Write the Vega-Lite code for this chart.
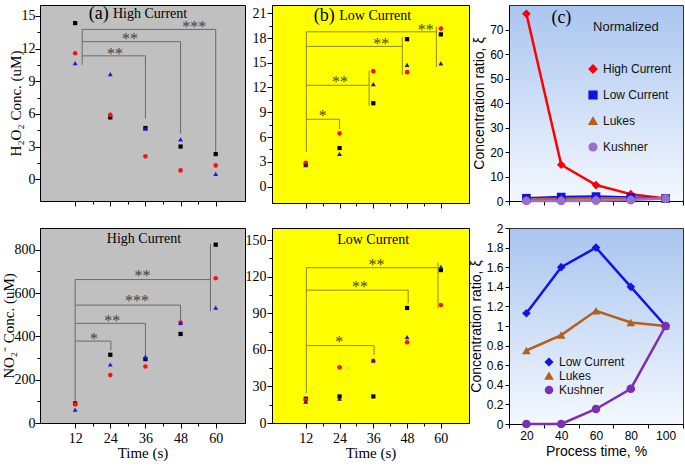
{
"$schema": "https://vega.github.io/schema/vega-lite/v6.json",
"padding": {"left": 0, "top": 4, "right": 2, "bottom": 2},
"columns": 3,
"align": "each",
"spacing": {"column": -2, "row": 12},
"resolve": {"scale": {"color": "independent", "shape": "independent", "size": "independent"}, "legend": {"color": "independent", "shape": "independent", "size": "independent"}},
"config": {
  "font": "Liberation Serif",
  "axis": {"labelFont": "Liberation Serif", "titleFont": "Liberation Serif", "labelFontSize": 14, "titleFontSize": 15, "titleFontWeight": "normal", "labelColor": "#000", "titleColor": "#000", "domainColor": "#000", "tickColor": "#000", "grid": false, "labelFlush": false, "labelOverlap": false, "labelPadding": 1, "titlePadding": 0, "tickCount": 40},
  "view": {"stroke": "#000"}
},
"datasets": {
  "aTopPts": [
    {"t":12,"s":"K","v":14.34},{"t":12,"s":"R","v":11.57},{"t":12,"s":"B","v":10.67},
    {"t":24,"s":"K","v":5.68},{"t":24,"s":"R","v":5.91},{"t":24,"s":"B","v":9.66},
    {"t":36,"s":"K","v":4.7},{"t":36,"s":"R","v":2.1},{"t":36,"s":"B","v":4.64},
    {"t":48,"s":"K","v":3.0},{"t":48,"s":"R","v":0.81},{"t":48,"s":"B","v":3.66},
    {"t":60,"s":"K","v":2.31},{"t":60,"s":"R","v":1.27},{"t":60,"s":"B","v":0.49}],
  "aTopBr": [
    {"x":14.4,"x2":14.4,"y":13.76,"y2":10.5},
    {"x":14.4,"x2":36,"y":11.33,"y2":11.33},{"x":36,"x2":36,"y":11.33,"y2":5.57},
    {"x":14.4,"x2":48,"y":12.63,"y2":12.63},{"x":48,"x2":48,"y":12.63,"y2":4.18},
    {"x":14.4,"x2":60,"y":13.76,"y2":13.76},{"x":60,"x2":60,"y":13.76,"y2":2.45}],
  "aTopTxt": [
    {"x":25.6,"y":11.83,"label":"**","kind":"star"},
    {"x":30.7,"y":13.27,"label":"**","kind":"star"},
    {"x":52.7,"y":14.39,"label":"***","kind":"star"},
    {"x":20.05,"y":15.14,"label":"(a)","kind":"tag"},
    {"x":24.9,"y":15.2,"label":"High Current","kind":"title"}],
  "bTopPts": [
    {"t":12,"s":"K","v":2.7},{"t":12,"s":"R","v":2.87},{"t":12,"s":"B","v":2.6},
    {"t":24,"s":"K","v":4.66},{"t":24,"s":"R","v":6.44},{"t":24,"s":"B","v":3.96},
    {"t":36,"s":"K","v":10.09},{"t":36,"s":"R","v":13.98},{"t":36,"s":"B","v":12.42},
    {"t":48,"s":"K","v":17.86},{"t":48,"s":"R","v":13.86},{"t":48,"s":"B","v":14.75},
    {"t":60,"s":"K","v":18.44},{"t":60,"s":"R","v":19.14},{"t":60,"s":"B","v":14.91}],
  "bTopBr": [
    {"x":12.2,"x2":12.2,"y":18.75,"y2":4.19},
    {"x":12.2,"x2":24,"y":8.15,"y2":8.15},{"x":24,"x2":24,"y":8.15,"y2":6.99},
    {"x":12.2,"x2":34.5,"y":12.27,"y2":12.27},{"x":34.5,"x2":34.5,"y":14.05,"y2":9.8},
    {"x":12.2,"x2":46.3,"y":16.98,"y2":16.98},{"x":46.3,"x2":46.3,"y":18.1,"y2":13.5},
    {"x":12.2,"x2":58.4,"y":18.75,"y2":18.75},{"x":58.4,"x2":58.4,"y":19.4,"y2":14.5}],
  "bTopTxt": [
    {"x":18.06,"y":9.04,"label":"*","kind":"star"},
    {"x":24.2,"y":13.12,"label":"**","kind":"star"},
    {"x":38.8,"y":17.7,"label":"**","kind":"star"},
    {"x":54.65,"y":19.5,"label":"**","kind":"star"},
    {"x":18.6,"y":20.69,"label":"(b)","kind":"tag"},
    {"x":23.9,"y":20.69,"label":"Low Current","kind":"title"}],
  "aBotPts": [
    {"t":12,"s":"K","v":90},{"t":12,"s":"R","v":86},{"t":12,"s":"B","v":62},
    {"t":24,"s":"K","v":315},{"t":24,"s":"R","v":221},{"t":24,"s":"B","v":270},
    {"t":36,"s":"K","v":295},{"t":36,"s":"R","v":261},{"t":36,"s":"B","v":306},
    {"t":48,"s":"K","v":411},{"t":48,"s":"R","v":464},{"t":48,"s":"B","v":462},
    {"t":60,"s":"K","v":823},{"t":60,"s":"R","v":668},{"t":60,"s":"B","v":533}],
  "aBotBr": [
    {"x":12,"x2":12,"y":662,"y2":85},
    {"x":12,"x2":24.2,"y":378,"y2":378},{"x":24.2,"x2":24.2,"y":378,"y2":336},
    {"x":12,"x2":36,"y":460,"y2":460},{"x":36,"x2":36,"y":460,"y2":308},
    {"x":12,"x2":48,"y":544,"y2":544},{"x":48,"x2":48,"y":544,"y2":476},
    {"x":12,"x2":58.2,"y":662,"y2":662},{"x":58.2,"x2":58.2,"y":828,"y2":515}],
  "aBotTxt": [
    {"x":18.4,"y":406,"label":"*","kind":"star"},
    {"x":24.7,"y":491,"label":"**","kind":"star"},
    {"x":33.1,"y":581,"label":"***","kind":"star"},
    {"x":35.0,"y":695,"label":"**","kind":"star"},
    {"x":35.5,"y":849,"label":"High Current","kind":"title"}],
  "bBotPts": [
    {"t":12,"s":"K","v":19.9},{"t":12,"s":"R","v":18.8},{"t":12,"s":"B","v":17.5},
    {"t":24,"s":"K","v":21.8},{"t":24,"s":"R","v":45.8},{"t":24,"s":"B","v":19.9},
    {"t":36,"s":"K","v":21.8},{"t":36,"s":"R","v":51},{"t":36,"s":"B","v":51.3},
    {"t":48,"s":"K","v":94.4},{"t":48,"s":"R","v":66.3},{"t":48,"s":"B","v":70.4},
    {"t":60,"s":"K","v":125.5},{"t":60,"s":"R","v":96.8},{"t":60,"s":"B","v":128.2}],
  "bBotBr": [
    {"x":12.2,"x2":12.2,"y":127.4,"y2":24.5},
    {"x":12.2,"x2":36.3,"y":63.5,"y2":63.5},{"x":36.3,"x2":36.3,"y":63.5,"y2":55.9},
    {"x":12.2,"x2":48.4,"y":109,"y2":109},{"x":48.4,"x2":48.4,"y":109,"y2":98.2},
    {"x":12.2,"x2":59,"y":127.4,"y2":127.4},{"x":59,"x2":59,"y":131.5,"y2":94}],
  "bBotTxt": [
    {"x":23.9,"y":69.5,"label":"*","kind":"star"},
    {"x":31.3,"y":114.5,"label":"**","kind":"star"},
    {"x":37.1,"y":132.8,"label":"**","kind":"star"},
    {"x":35.95,"y":150.5,"label":"Low Current","kind":"title"}],
  "cTop": [
    {"p":20,"series":"High Current","v":76.4},{"p":40,"series":"High Current","v":14.8},{"p":60,"series":"High Current","v":6.5},{"p":80,"series":"High Current","v":2.8},{"p":100,"series":"High Current","v":1.0},
    {"p":20,"series":"Low Current","v":1.13},{"p":40,"series":"Low Current","v":1.6},{"p":60,"series":"Low Current","v":1.8},{"p":80,"series":"Low Current","v":1.4},{"p":100,"series":"Low Current","v":1.0},
    {"p":20,"series":"Lukes","v":0.75},{"p":40,"series":"Lukes","v":0.91},{"p":60,"series":"Lukes","v":1.16},{"p":80,"series":"Lukes","v":1.04},{"p":100,"series":"Lukes","v":1.0},
    {"p":20,"series":"Kushner","v":0},{"p":40,"series":"Kushner","v":0},{"p":60,"series":"Kushner","v":0.15},{"p":80,"series":"Kushner","v":0.36},{"p":100,"series":"Kushner","v":1.0}],
  "cTopTxt": [
    {"x":40.1,"y":74.6,"label":"(c)","kind":"tag"},
    {"x":77.2,"y":71.0,"label":"Normalized","kind":"norm"}],
  "cBot": [
    {"p":20,"series":"Low Current","v":1.13},{"p":40,"series":"Low Current","v":1.6},{"p":60,"series":"Low Current","v":1.8},{"p":80,"series":"Low Current","v":1.4},{"p":100,"series":"Low Current","v":1.0},
    {"p":20,"series":"Lukes","v":0.75},{"p":40,"series":"Lukes","v":0.907},{"p":60,"series":"Lukes","v":1.155},{"p":80,"series":"Lukes","v":1.036},{"p":100,"series":"Lukes","v":1.0},
    {"p":20,"series":"Kushner","v":0},{"p":40,"series":"Kushner","v":0},{"p":60,"series":"Kushner","v":0.153},{"p":80,"series":"Kushner","v":0.36},{"p":100,"series":"Kushner","v":1.0}]
},
"concat": [
  {
    "width": 205, "height": 196,
    "view": {"fill": "#c0c0c0", "stroke": "#000"},
    "layer": [
      {"data": {"name": "aTopBr"}, "mark": {"type": "rule", "color": "#6a6a6a", "strokeWidth": 1},
       "encoding": {"x": {"field": "x", "type": "quantitative"}, "x2": {"field": "x2"}, "y": {"field": "y", "type": "quantitative"}, "y2": {"field": "y2"}}},
      {"data": {"name": "aTopPts"}, "mark": {"type": "point", "filled": true, "opacity": 1},
       "encoding": {
         "x": {"field": "t", "type": "quantitative", "scale": {"domain": [6, 66]},
               "axis": {"values": [12,18,24,30,36,42,48,54,60], "tickCount": 40, "labels": false, "title": null, "tickSize": {"condition": {"test": "datum.value % 12 === 0", "value": 5}, "value": 3}}},
         "y": {"field": "v", "type": "quantitative", "scale": {"domain": [-1, 16]},
               "axis": {"values": [0,1.5,3,4.5,6,7.5,9,10.5,12,13.5,15], "tickCount": 40, "labelOverlap": false, "labelPadding": 0, "titlePadding": -2, "labelExpr": "datum.value % 3 === 0 ? '' + datum.value : ''", "title": "H₂O₂ Conc. (uM)", "tickSize": {"condition": {"test": "datum.value % 3 === 0", "value": 5}, "value": 3}}},
         "shape": {"field": "s", "type": "nominal", "scale": {"domain": ["K","R","B"], "range": ["square","circle","triangle-up"]}, "legend": null},
         "color": {"field": "s", "type": "nominal", "scale": {"domain": ["K","R","B"], "range": ["#000000","#ff1010","#1a1ae0"]}, "legend": null},
         "size": {"field": "s", "type": "ordinal", "scale": {"domain": ["K","R","B"], "range": [18,24,32]}, "legend": null}}},
      {"data": {"name": "aTopTxt"}, "transform": [{"filter": "datum.kind === 'star'"}], "mark": {"type": "text", "fontSize": 16, "color": "#404040", "dy": 4},
       "encoding": {"x": {"field": "x", "type": "quantitative"}, "y": {"field": "y", "type": "quantitative"}, "text": {"field": "label"}}},
      {"data": {"name": "aTopTxt"}, "transform": [{"filter": "datum.kind === 'tag'"}], "mark": {"type": "text", "fontSize": 18, "color": "#000"},
       "encoding": {"x": {"field": "x", "type": "quantitative"}, "y": {"field": "y", "type": "quantitative"}, "text": {"field": "label"}}},
      {"data": {"name": "aTopTxt"}, "transform": [{"filter": "datum.kind === 'title'"}], "mark": {"type": "text", "fontSize": 14, "color": "#000", "align": "left"},
       "encoding": {"x": {"field": "x", "type": "quantitative"}, "y": {"field": "y", "type": "quantitative"}, "text": {"field": "label"}}}
    ]
  },
  {
    "width": 197, "height": 198,
    "view": {"fill": "#ffff00", "stroke": "#000"},
    "layer": [
      {"data": {"name": "bTopBr"}, "mark": {"type": "rule", "color": "#8a8a10", "strokeWidth": 1},
       "encoding": {"x": {"field": "x", "type": "quantitative"}, "x2": {"field": "x2"}, "y": {"field": "y", "type": "quantitative"}, "y2": {"field": "y2"}}},
      {"data": {"name": "bTopPts"}, "mark": {"type": "point", "filled": true, "opacity": 1},
       "encoding": {
         "x": {"field": "t", "type": "quantitative", "scale": {"domain": [6.5, 66.5]},
               "axis": {"values": [12,18,24,30,36,42,48,54,60], "tickCount": 40, "labels": false, "title": null, "tickSize": {"condition": {"test": "datum.value % 12 === 0", "value": 5}, "value": 3}}},
         "y": {"field": "v", "type": "quantitative", "scale": {"domain": [-1.2, 22]},
               "axis": {"values": [0,1.5,3,4.5,6,7.5,9,10.5,12,13.5,15,16.5,18,19.5,21], "tickCount": 40, "labelOverlap": false, "labelExpr": "datum.value % 3 === 0 ? '' + datum.value : ''", "title": null, "tickSize": {"condition": {"test": "datum.value % 3 === 0", "value": 5}, "value": 3}}},
         "shape": {"field": "s", "type": "nominal", "scale": {"domain": ["K","R","B"], "range": ["square","circle","triangle-up"]}, "legend": null},
         "color": {"field": "s", "type": "nominal", "scale": {"domain": ["K","R","B"], "range": ["#000000","#ff1010","#1c1cb0"]}, "legend": null},
         "size": {"field": "s", "type": "ordinal", "scale": {"domain": ["K","R","B"], "range": [18,24,32]}, "legend": null}}},
      {"data": {"name": "bTopTxt"}, "transform": [{"filter": "datum.kind === 'star'"}], "mark": {"type": "text", "fontSize": 16, "color": "#4a4a00", "dy": 4},
       "encoding": {"x": {"field": "x", "type": "quantitative"}, "y": {"field": "y", "type": "quantitative"}, "text": {"field": "label"}}},
      {"data": {"name": "bTopTxt"}, "transform": [{"filter": "datum.kind === 'tag'"}], "mark": {"type": "text", "fontSize": 18, "color": "#000"},
       "encoding": {"x": {"field": "x", "type": "quantitative"}, "y": {"field": "y", "type": "quantitative"}, "text": {"field": "label"}}},
      {"data": {"name": "bTopTxt"}, "transform": [{"filter": "datum.kind === 'title'"}], "mark": {"type": "text", "fontSize": 14, "color": "#000", "align": "left"},
       "encoding": {"x": {"field": "x", "type": "quantitative"}, "y": {"field": "y", "type": "quantitative"}, "text": {"field": "label"}}}
    ]
  },
  {
    "width": 174, "height": 196,
    "view": {"fill": {"gradient": "linear", "x1": 0, "y1": 1, "x2": 0, "y2": 0, "stops": [{"offset": 0, "color": "#f4f8fe"}, {"offset": 1, "color": "#a9c5f0"}]}, "stroke": "#333"},
    "layer": [
      {"data": {"name": "cTop"}, "mark": {"type": "line", "strokeWidth": 2.5},
       "encoding": {
         "x": {"field": "p", "type": "quantitative", "scale": {"domain": [10, 110]},
               "axis": {"values": [10,30,50,70,90,110], "tickCount": 40, "labels": false, "title": null, "tickSize": 4}},
         "y": {"field": "v", "type": "quantitative", "scale": {"domain": [0, 80]},
               "axis": {"values": [0,10,20,30,40,50,60,70], "tickCount": 40, "labelOverlap": false, "labelExpr": "'' + datum.value", "title": "Concentration ratio, ξ", "tickSize": 4, "labelPadding": 2, "labelFont": "Liberation Sans", "titleFont": "Liberation Sans", "labelFontSize": 12, "titleFontSize": 14, "titlePadding": 3}},
         "color": {"field": "series", "type": "nominal", "scale": {"domain": ["High Current","Low Current","Lukes","Kushner"], "range": ["#ff0000","#1010e8","#b4601c","#9a70cc"]}}}},
      {"data": {"name": "cTop"}, "mark": {"type": "point", "filled": true, "opacity": 1},
       "encoding": {
         "x": {"field": "p", "type": "quantitative"},
         "y": {"field": "v", "type": "quantitative"},
         "color": {"field": "series", "type": "nominal", "scale": {"domain": ["High Current","Low Current","Lukes","Kushner"], "range": ["#ff0000","#1010e8","#b4601c","#9a70cc"]},
                   "legend": {"orient": "none", "legendX": 78, "legendY": 58, "title": null, "labelFont": "Liberation Sans", "labelFontSize": 12, "labelColor": "#111", "rowPadding": 12, "symbolSize": 60, "labelOffset": 4}},
         "shape": {"field": "series", "type": "nominal", "scale": {"domain": ["High Current","Low Current","Lukes","Kushner"], "range": ["diamond","square","triangle-up","circle"]},
                   "legend": {"orient": "none", "legendX": 78, "legendY": 58, "title": null, "labelFont": "Liberation Sans", "labelFontSize": 12, "labelColor": "#111", "rowPadding": 12, "symbolSize": 60, "labelOffset": 4}},
         "size": {"value": 75}}},
      {"data": {"name": "cTopTxt"}, "transform": [{"filter": "datum.kind === 'tag'"}], "mark": {"type": "text", "fontSize": 18, "color": "#000", "font": "Liberation Serif"},
       "encoding": {"x": {"field": "x", "type": "quantitative"}, "y": {"field": "y", "type": "quantitative"}, "text": {"field": "label"}}},
      {"data": {"name": "cTopTxt"}, "transform": [{"filter": "datum.kind === 'norm'"}], "mark": {"type": "text", "fontSize": 13, "color": "#111", "font": "Liberation Sans"},
       "encoding": {"x": {"field": "x", "type": "quantitative"}, "y": {"field": "y", "type": "quantitative"}, "text": {"field": "label"}}}
    ]
  },
  {
    "width": 205, "height": 195,
    "view": {"fill": "#c0c0c0", "stroke": "#000"},
    "layer": [
      {"data": {"name": "aBotBr"}, "mark": {"type": "rule", "color": "#6a6a6a", "strokeWidth": 1},
       "encoding": {"x": {"field": "x", "type": "quantitative"}, "x2": {"field": "x2"}, "y": {"field": "y", "type": "quantitative"}, "y2": {"field": "y2"}}},
      {"data": {"name": "aBotPts"}, "mark": {"type": "point", "filled": true, "opacity": 1},
       "encoding": {
         "x": {"field": "t", "type": "quantitative", "scale": {"domain": [6, 66]},
               "axis": {"values": [12,18,24,30,36,42,48,54,60], "tickCount": 40, "labelOverlap": false, "labelExpr": "datum.value % 12 === 0 ? '' + datum.value : ''", "title": "Time (s)", "titlePadding": 0, "labelPadding": 3, "tickSize": {"condition": {"test": "datum.value % 12 === 0", "value": 5}, "value": 3}}},
         "y": {"field": "v", "type": "quantitative", "scale": {"domain": [0, 900]},
               "axis": {"values": [0,100,200,300,400,500,600,700,800], "tickCount": 40, "labelOverlap": false, "labelPadding": 0, "titlePadding": -2, "labelExpr": "datum.value % 200 === 0 ? '' + datum.value : ''", "title": "NO₂⁻ Conc. (uM)", "tickSize": {"condition": {"test": "datum.value % 200 === 0", "value": 5}, "value": 3}}},
         "shape": {"field": "s", "type": "nominal", "scale": {"domain": ["K","R","B"], "range": ["square","circle","triangle-up"]}, "legend": null},
         "color": {"field": "s", "type": "nominal", "scale": {"domain": ["K","R","B"], "range": ["#000000","#ff1010","#1a1ae0"]}, "legend": null},
         "size": {"field": "s", "type": "ordinal", "scale": {"domain": ["K","R","B"], "range": [18,24,32]}, "legend": null}}},
      {"data": {"name": "aBotTxt"}, "transform": [{"filter": "datum.kind === 'star'"}], "mark": {"type": "text", "fontSize": 16, "color": "#404040", "dy": 4},
       "encoding": {"x": {"field": "x", "type": "quantitative"}, "y": {"field": "y", "type": "quantitative"}, "text": {"field": "label"}}},
      {"data": {"name": "aBotTxt"}, "transform": [{"filter": "datum.kind === 'title'"}], "mark": {"type": "text", "fontSize": 14, "color": "#000"},
       "encoding": {"x": {"field": "x", "type": "quantitative"}, "y": {"field": "y", "type": "quantitative"}, "text": {"field": "label"}}}
    ]
  },
  {
    "width": 197, "height": 195,
    "view": {"fill": "#ffff00", "stroke": "#000"},
    "layer": [
      {"data": {"name": "bBotBr"}, "mark": {"type": "rule", "color": "#8a8a10", "strokeWidth": 1},
       "encoding": {"x": {"field": "x", "type": "quantitative"}, "x2": {"field": "x2"}, "y": {"field": "y", "type": "quantitative"}, "y2": {"field": "y2"}}},
      {"data": {"name": "bBotPts"}, "mark": {"type": "point", "filled": true, "opacity": 1},
       "encoding": {
         "x": {"field": "t", "type": "quantitative", "scale": {"domain": [6.5, 66.5]},
               "axis": {"values": [12,18,24,30,36,42,48,54,60], "tickCount": 40, "labelOverlap": false, "labelExpr": "datum.value % 12 === 0 ? '' + datum.value : ''", "title": "Time (s)", "titlePadding": 0, "labelPadding": 3, "tickSize": {"condition": {"test": "datum.value % 12 === 0", "value": 5}, "value": 3}}},
         "y": {"field": "v", "type": "quantitative", "scale": {"domain": [0, 160]},
               "axis": {"values": [0,15,30,45,60,75,90,105,120,135,150], "tickCount": 40, "labelOverlap": false, "labelExpr": "datum.value % 30 === 0 ? '' + datum.value : ''", "title": null, "tickSize": {"condition": {"test": "datum.value % 30 === 0", "value": 5}, "value": 3}}},
         "shape": {"field": "s", "type": "nominal", "scale": {"domain": ["K","R","B"], "range": ["square","circle","triangle-up"]}, "legend": null},
         "color": {"field": "s", "type": "nominal", "scale": {"domain": ["K","R","B"], "range": ["#000000","#ff1010","#1c1cb0"]}, "legend": null},
         "size": {"field": "s", "type": "ordinal", "scale": {"domain": ["K","R","B"], "range": [18,24,32]}, "legend": null}}},
      {"data": {"name": "bBotTxt"}, "transform": [{"filter": "datum.kind === 'star'"}], "mark": {"type": "text", "fontSize": 16, "color": "#4a4a00", "dy": 4},
       "encoding": {"x": {"field": "x", "type": "quantitative"}, "y": {"field": "y", "type": "quantitative"}, "text": {"field": "label"}}},
      {"data": {"name": "bBotTxt"}, "transform": [{"filter": "datum.kind === 'title'"}], "mark": {"type": "text", "fontSize": 14, "color": "#000"},
       "encoding": {"x": {"field": "x", "type": "quantitative"}, "y": {"field": "y", "type": "quantitative"}, "text": {"field": "label"}}}
    ]
  },
  {
    "width": 174, "height": 196,
    "view": {"fill": {"gradient": "linear", "x1": 0, "y1": 1, "x2": 0, "y2": 0, "stops": [{"offset": 0, "color": "#f4f8fe"}, {"offset": 1, "color": "#a9c5f0"}]}, "stroke": "#333"},
    "layer": [
      {"data": {"name": "cBot"}, "mark": {"type": "line", "strokeWidth": 2.5},
       "encoding": {
         "x": {"field": "p", "type": "quantitative", "scale": {"domain": [10, 110]},
               "axis": {"values": [10,30,50,70,90,110], "tickCount": 40, "labelOverlap": false, "labelExpr": "datum.value < 100 ? '' + (datum.value + 10) : ''", "labelOffset": 17.4, "title": "Process time, %", "tickSize": 4, "labelPadding": 2, "labelFont": "Liberation Sans", "titleFont": "Liberation Sans", "labelFontSize": 12, "titleFontSize": 14, "titlePadding": 3}},
         "y": {"field": "v", "type": "quantitative", "scale": {"domain": [0, 2]},
               "axis": {"values": [0,0.2,0.4,0.6,0.8,1,1.2,1.4,1.6,1.8,2], "tickCount": 40, "labelOverlap": false, "labelExpr": "'' + datum.value", "title": "Concentration ratio, ξ", "tickSize": 4, "labelPadding": 2, "labelFont": "Liberation Sans", "titleFont": "Liberation Sans", "labelFontSize": 12, "titleFontSize": 14, "titlePadding": 3}},
         "color": {"field": "series", "type": "nominal", "scale": {"domain": ["Low Current","Lukes","Kushner"], "range": ["#1414e6","#b4601c","#7a30b0"]}}}},
      {"data": {"name": "cBot"}, "mark": {"type": "point", "filled": true, "opacity": 1},
       "encoding": {
         "x": {"field": "p", "type": "quantitative"},
         "y": {"field": "v", "type": "quantitative"},
         "color": {"field": "series", "type": "nominal", "scale": {"domain": ["Low Current","Lukes","Kushner"], "range": ["#1414e6","#b4601c","#7a30b0"]},
                   "legend": {"orient": "none", "legendX": 34, "legendY": 128, "title": null, "labelFont": "Liberation Sans", "labelFontSize": 12, "labelColor": "#111", "rowPadding": 0, "symbolSize": 50, "labelOffset": 4}},
         "shape": {"field": "series", "type": "nominal", "scale": {"domain": ["Low Current","Lukes","Kushner"], "range": ["diamond","triangle-up","circle"]},
                   "legend": {"orient": "none", "legendX": 34, "legendY": 128, "title": null, "labelFont": "Liberation Sans", "labelFontSize": 12, "labelColor": "#111", "rowPadding": 0, "symbolSize": 50, "labelOffset": 4}},
         "size": {"value": 75}}}
    ]
  }
]
}
